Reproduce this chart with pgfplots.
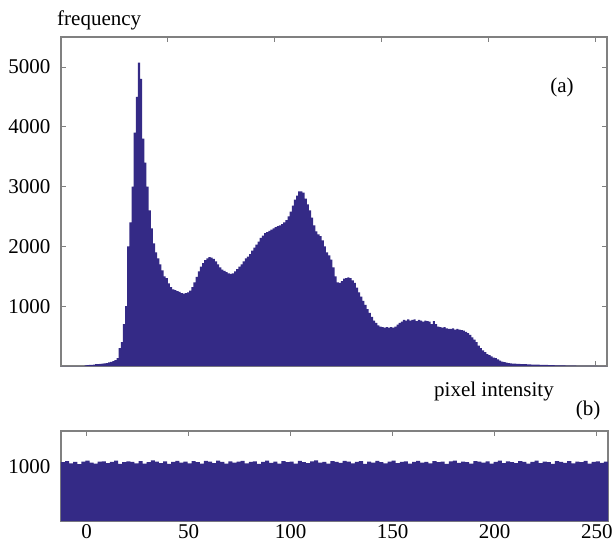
\documentclass[border=0pt]{standalone}
\usepackage{fontspec}
\setmainfont{Liberation Serif}
\usepackage{pgfplots}
\pgfplotsset{compat=1.18}
\definecolor{histblue}{RGB}{52,42,134}
\definecolor{framegray}{RGB}{128,128,128}
\begin{document}
\begin{tikzpicture}
\path[use as bounding box] (0pt,0pt) rectangle (613pt,-548pt);
\pgfplotsset{every axis/.append style={
  scale only axis, tick align=inside,
  axis line style={framegray, line width=1.2pt},
  tick style={framegray, line width=0.8pt},
  major tick length=5pt,
  ticklabel style={font=\fontsize{21}{23}\selectfont},
  /pgf/number format/assume math mode=true,
  /pgf/number format/1000 sep={},
  scaled ticks=false,
}}
\begin{axis}[at={(61pt,-366pt)}, anchor=south west, width=546pt, height=329pt,
  xmin=0, xmax=255.5, ymin=0, ymax=5500,
  xtick={0,50,...,250}, xticklabels={},
  ytick={1000,2000,3000,4000,5000},
  yticklabel style={xshift=-7pt}]
\addplot[fill=histblue, draw=none, const plot mark left] coordinates {
(0,0)(1,0)(2,0)(3,0)(4,0)(5,0)(6,0)(7,0)(8,0)(9,0)(10,0)
(11,10)(12,15)(13,20)(14,20)(15,25)(16,30)(17,30)(18,35)(19,40)(20,45)
(21,50)(22,60)(23,70)(24,80)(25,100)(26,130)(27,300)(28,400)(29,700)(30,1000)
(31,2000)(32,2400)(33,3000)(34,3900)(35,4500)(36,5070)(37,4800)(38,3800)(39,3400)(40,3000)
(41,2600)(42,2300)(43,2050)(44,1900)(45,1800)(46,1700)(47,1600)(48,1500)(49,1470)(50,1380)
(51,1320)(52,1280)(53,1270)(54,1250)(55,1240)(56,1220)(57,1210)(58,1220)(59,1230)(60,1260)
(61,1320)(62,1400)(63,1490)(64,1580)(65,1660)(66,1720)(67,1770)(68,1800)(69,1820)(70,1810)
(71,1790)(72,1750)(73,1700)(74,1650)(75,1610)(76,1590)(77,1570)(78,1550)(79,1540)(80,1550)
(81,1580)(82,1620)(83,1660)(84,1700)(85,1750)(86,1800)(87,1830)(88,1870)(89,1930)(90,1980)
(91,2030)(92,2080)(93,2140)(94,2180)(95,2220)(96,2240)(97,2260)(98,2280)(99,2300)(100,2320)
(101,2340)(102,2350)(103,2370)(104,2400)(105,2440)(106,2500)(107,2580)(108,2680)(109,2780)(110,2850)
(111,2920)(112,2920)(113,2900)(114,2800)(115,2700)(116,2600)(117,2480)(118,2350)(119,2250)(120,2200)
(121,2170)(122,2100)(123,2000)(124,1900)(125,1850)(126,1780)(127,1650)(128,1500)(129,1400)(130,1390)
(131,1420)(132,1460)(133,1470)(134,1480)(135,1470)(136,1430)(137,1390)(138,1310)(139,1230)(140,1160)
(141,1090)(142,1020)(143,950)(144,890)(145,820)(146,760)(147,720)(148,680)(149,660)(150,650)
(151,640)(152,650)(153,640)(154,650)(155,640)(156,660)(157,690)(158,720)(159,740)(160,770)
(161,760)(162,780)(163,760)(164,770)(165,780)(166,750)(167,770)(168,760)(169,740)(170,760)
(171,750)(172,740)(173,700)(174,750)(175,700)(176,660)(177,650)(178,640)(179,650)(180,630)
(181,620)(182,620)(183,630)(184,610)(185,620)(186,610)(187,600)(188,590)(189,570)(190,550)
(191,520)(192,480)(193,440)(194,400)(195,340)(196,300)(197,260)(198,230)(199,200)(200,180)
(201,160)(202,140)(203,130)(204,110)(205,90)(206,75)(207,65)(208,55)(209,50)(210,45)
(211,40)(212,38)(213,35)(214,35)(215,32)(216,30)(217,30)(218,28)(219,28)(220,25)
(221,25)(222,22)(223,22)(224,20)(225,20)(226,18)(227,18)(228,15)(229,15)(230,15)
(231,12)(232,12)(233,10)(234,10)(235,10)(236,8)(237,8)(238,5)(239,5)(240,5)
(241,4)(242,4)(243,3)(244,3)(245,2)(246,2)(247,2)(248,1)(249,1)(250,1)
(251,0)(252,0)(253,0)(254,0)(255,0)(256,0)
} \closedcycle;
\end{axis}
\begin{axis}[at={(61pt,-521pt)}, anchor=south west, width=547pt, height=90pt,
  xmin=-12.5, xmax=255.5, ymin=0, ymax=1650,
  xtick={0,50,...,250}, ytick={1000},
  yticklabel style={xshift=-7pt}]
\addplot[fill=histblue, draw=none, const plot mark left] coordinates {
(-12.5,1080)(-10.5,1100)(-8.5,1055)(-6.5,1085)(-4.5,1045)(-2.5,1090)(-0.5,1105)(1.5,1070)(3.5,1050)(5.5,1088)
(7.5,1095)(9.5,1060)(11.5,1082)(13.5,1108)(15.5,1048)(17.5,1078)(19.5,1092)(21.5,1085)(23.5,1058)(25.5,1100)
(27.5,1052)(29.5,1080)(31.5,1110)(33.5,1088)(35.5,1062)(37.5,1094)(39.5,1046)(41.5,1083)(43.5,1104)(45.5,1070)
(47.5,1090)(49.5,1055)(51.5,1096)(53.5,1081)(55.5,1050)(57.5,1102)(59.5,1088)(61.5,1060)(63.5,1108)(65.5,1084)
(67.5,1054)(69.5,1095)(71.5,1070)(73.5,1087)(75.5,1104)(77.5,1058)(79.5,1082)(81.5,1094)(83.5,1046)(85.5,1085)
(87.5,1106)(89.5,1066)(91.5,1090)(93.5,1052)(95.5,1098)(97.5,1078)(99.5,1088)(101.5,1050)(103.5,1102)(105.5,1080)
(107.5,1060)(109.5,1092)(111.5,1110)(113.5,1072)(115.5,1086)(117.5,1052)(119.5,1098)(121.5,1083)(123.5,1064)(125.5,1104)
(127.5,1088)(129.5,1056)(131.5,1084)(133.5,1096)(135.5,1048)(137.5,1090)(139.5,1070)(141.5,1102)(143.5,1081)(145.5,1055)
(147.5,1089)(149.5,1108)(151.5,1062)(153.5,1083)(155.5,1094)(157.5,1050)(159.5,1086)(161.5,1103)(163.5,1068)(165.5,1084)
(167.5,1058)(169.5,1099)(171.5,1078)(173.5,1090)(175.5,1047)(177.5,1094)(179.5,1108)(181.5,1064)(183.5,1087)(185.5,1080)
(187.5,1054)(189.5,1100)(191.5,1088)(193.5,1068)(195.5,1094)(197.5,1050)(199.5,1084)(201.5,1105)(203.5,1060)(205.5,1091)
(207.5,1078)(209.5,1062)(211.5,1098)(213.5,1086)(215.5,1054)(217.5,1083)(219.5,1108)(221.5,1062)(223.5,1090)(225.5,1078)
(227.5,1048)(229.5,1100)(231.5,1085)(233.5,1066)(235.5,1096)(237.5,1058)(239.5,1089)(241.5,1080)(243.5,1104)(245.5,1052)
(247.5,1084)(249.5,1094)(251.5,1064)(253.5,1088)(255.5,1088)
} \closedcycle;
\end{axis}
\node[anchor=base west, font=\fontsize{21}{23}\selectfont, inner sep=0pt] at (57pt,-26pt) {frequency};
\node[font=\fontsize{21}{23}\selectfont] at (562pt,-87pt) {(a)};
\node[anchor=base, font=\fontsize{21}{23}\selectfont, inner sep=0pt] at (494pt,-396pt) {pixel intensity};
\node[font=\fontsize{21}{23}\selectfont] at (588pt,-410pt) {(b)};
\end{tikzpicture}
\end{document}
